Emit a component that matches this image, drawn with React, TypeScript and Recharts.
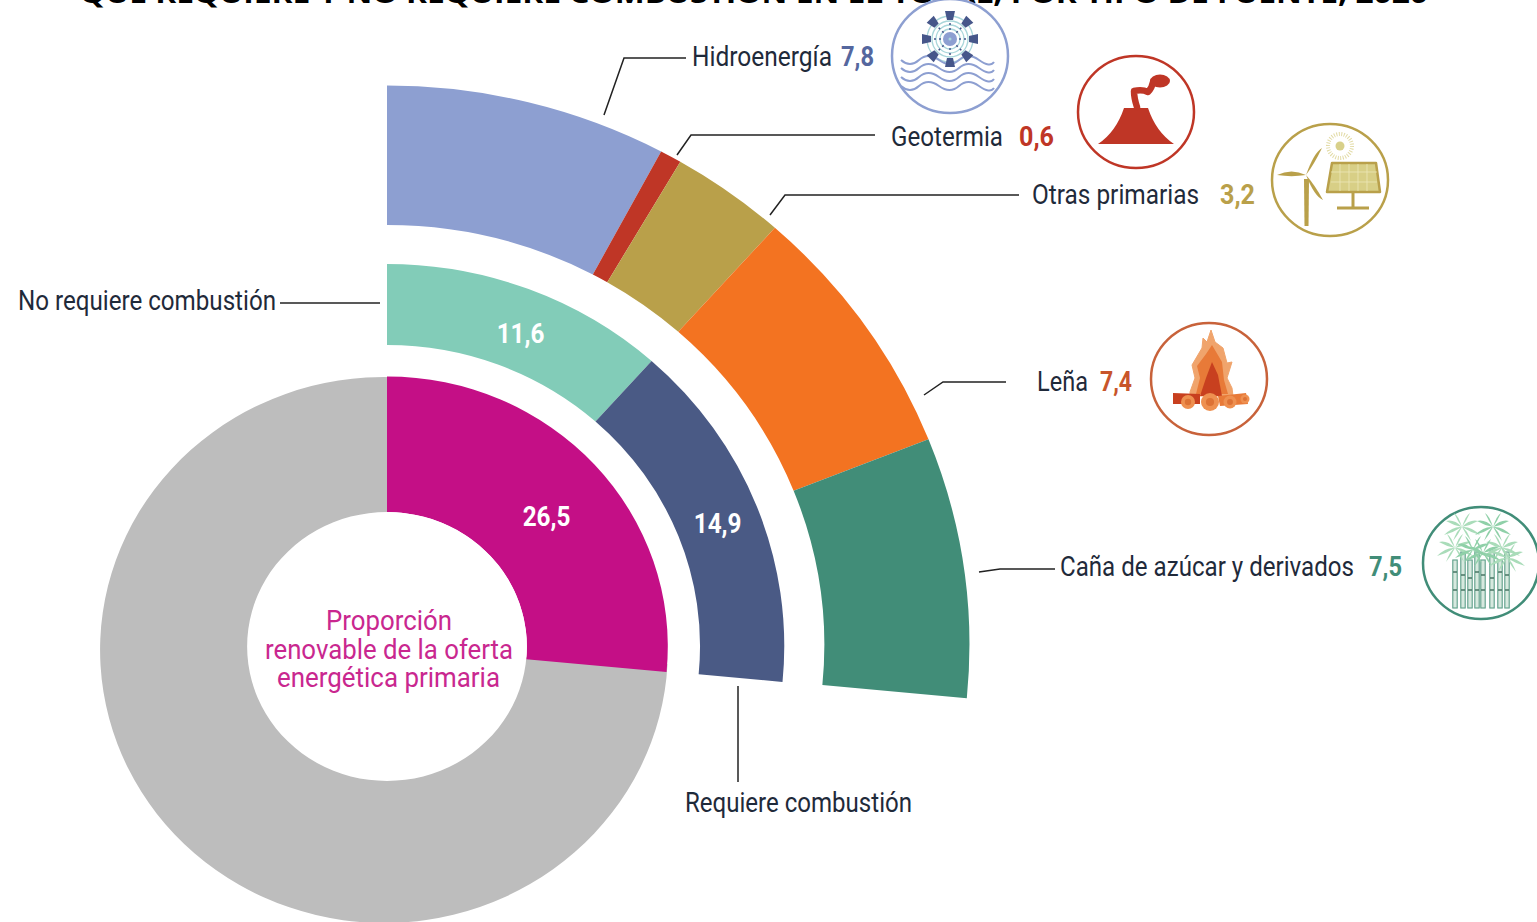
import React from "react"
import { PieChart, Pie, Cell } from "recharts"

const SCALE_X = 1.04
const CENTER_X = 387 / SCALE_X

const shareNames = ["Renovable", "No renovable"]
const shareValues = [26.5, 73.5]
const shareColors = ["#c40f86", "#bdbdbd"]

const combustionNames = ["No requiere combustión", "Requiere combustión"]
const combustionValues = [11.6, 14.9]
const combustionColors = ["#82ccb8", "#4a5a85"]

const sourceNames = ["Hidroenergía", "Geotermia", "Otras primarias", "Leña", "Caña de azúcar y derivados"]
const sourceValues = [7.8, 0.6, 3.2, 7.4, 7.5]
const sourceColors = ["#8d9fd1", "#bf3626", "#b9a04a", "#f37321", "#418d78"]
const sourceValueColors = ["#55679e", "#bf3626", "#b9a04a", "#c8552a", "#418d78"]

const toRows = (names: string[], values: number[]) =>
  names.map((name, i) => ({ name, value: values[i] }))

const fmt = (v: number) => String(v).replace(".", ",")

const FONT = "Roboto, sans-serif"
const INK = "#1f2a3a"

// x, baseline and width of the source labels, then the same for their values
const sourceLabelBoxes = [
  [692, 66, 140, 841, 33],
  [891, 146, 112, 1019, 35],
  [1032, 204, 167, 1220, 35],
  [1037, 391, 51, 1100, 32],
  [1060, 576, 294, 1369, 33],
]

const leaderLines = [
  "604,115 624,58 686,58",
  "677,155 691,135 875,135",
  "770,215 785,195 1019,195",
  "924,395 943,382 1006,382",
  "979,572 1000,569 1055,569",
  "280,303 380,303",
  "738,686 738,782",
]

const centerLines = [
  { text: "Proporción", x: 326, y: 630, w: 126 },
  { text: "renovable de la oferta", x: 265, y: 659, w: 248 },
  { text: "energética primaria", x: 277, y: 687, w: 223 },
]

// the printed value labels do not sit exactly on the ring's middle
const labelNudge: Record<string, number[]> = {
  "11.6": [7, 6],
  "14.9": [0, 2],
  "26.5": [4, 6],
}

const RAD = Math.PI / 180

const SliceValue = (props: any) => {
  const { cx, cy, midAngle, innerRadius, outerRadius, value } = props
  const nudge = labelNudge[String(value)]
  if (!nudge) return null
  const r = (innerRadius + outerRadius) / 2
  const x = cx + r * Math.cos(-midAngle * RAD) + nudge[0] / SCALE_X
  const y = cy + r * Math.sin(-midAngle * RAD) + nudge[1]
  return (
    <text
      x={x}
      y={y + 10}
      textAnchor="middle"
      fill="#fff"
      fontFamily={FONT}
      fontWeight={700}
      fontSize={27}
      textLength={46}
      lengthAdjust="spacingAndGlyphs">
      {fmt(value)}
    </text>
  )
}

// thin pointed shape, used for blades and leaves
const leaf = (x: number, y: number, dx: number, dy: number, bend = 4) => {
  const mx = x + dx / 2
  const my = y + dy / 2
  return `M${x} ${y} Q${mx} ${my - bend} ${x + dx} ${y + dy} Q${mx} ${my + bend / 3} ${x} ${y} Z`
}

const HydroIcon = () => (
  <g>
    <ellipse cx={950} cy={56} rx={58} ry={57} fill="#fff" stroke="#8d9fd1" strokeWidth={2.5} />
    {[23, 18, 14, 10].map(r => (
      <circle key={r} cx={950} cy={39} r={r} fill="none" stroke="#a9d6da" strokeWidth={1.3} />
    ))}
    <circle cx={950} cy={39} r={7} fill="#8d9fd1" />
    <circle cx={950} cy={39} r={1.5} fill="#a9d6da" />
    {[60, 68, 77, 86].map(y => (
      <path
        key={y}
        d={`M901 ${y} q9 8 18 0 t20 0 t20 0 t20 0 t15 2`}
        fill="none"
        stroke="#8d9fd1"
        strokeWidth={2}
      />
    ))}
    {[0, 45, 90, 135, 180, 225, 270, 315].map(a => (
      <g key={a} transform={`rotate(${a} 950 39)`}>
        <line x1={950} y1={30} x2={950} y2={20} stroke="#46568a" strokeWidth={1.5} strokeDasharray="2 3" />
        <path d="M947 20 L953 20 L955 11 L945 11 Z" fill="#46568a" />
      </g>
    ))}
  </g>
)

const VolcanoIcon = () => (
  <g>
    <ellipse cx={1136} cy={112} rx={58} ry={56} fill="#fff" stroke="#bf3626" strokeWidth={2.5} />
    <path d="M1098 144 Q1116 132 1124 108 L1148 108 Q1156 132 1174 144 Z" fill="#bf3626" />
    <path
      d="M1137 107 Q1134 98 1134 91 Q1142 89 1148 92 Q1152 88 1153 82 Q1158 78 1165 80"
      fill="none"
      stroke="#bf3626"
      strokeWidth={6.5}
      strokeLinecap="round"
      strokeLinejoin="round"
    />
    <ellipse cx={1160} cy={81} rx={10} ry={6.5} fill="#bf3626" />
  </g>
)

const SolarIcon = () => (
  <g fill="#b9a04a">
    <ellipse cx={1330} cy={180} rx={58} ry={56} fill="#fff" stroke="#b9a04a" strokeWidth={2.5} />
    <path d={leaf(1306, 175, -29, 0, 7)} />
    <path d={leaf(1306, 175, 16, -27, 9)} />
    <path d={leaf(1306, 175, 17, 25, -9)} />
    <path d="M1304 179 L1309 179 L1308.5 226 L1304.5 226 Z" />
    <path
      d="M1332 163 L1376 163 L1380 192 L1327 192 Z"
      fill="#d8cf86"
      stroke="#b9a04a"
      strokeWidth={2.5}
      strokeLinejoin="round"
    />
    {[1340, 1349, 1358, 1367].map(x => (
      <line key={x} x1={x} y1={164} x2={x} y2={191} stroke="#eee7b8" strokeWidth={0.8} />
    ))}
    {[172, 182].map(y => (
      <line key={y} x1={1331} y1={y} x2={1377} y2={y} stroke="#eee7b8" strokeWidth={0.8} />
    ))}
    <path d="M1353 192 L1353 208 M1337 208 L1369 208" stroke="#b9a04a" strokeWidth={3} fill="none" />
    <circle cx={1340} cy={146} r={4.5} fill="#d8d08a" />
    <circle cx={1340} cy={146} r={12} fill="none" stroke="#e2dba6" strokeWidth={4} strokeDasharray="1 1.5" />
  </g>
)

const FireIcon = () => (
  <g>
    <ellipse cx={1209} cy={379} rx={58} ry={56} fill="#fff" stroke="#c8623a" strokeWidth={2.5} />
    <path
      d="M1211 330 L1215 342 L1223 348 L1227 363 L1232 362 L1227 378 L1232 388 L1233 396 L1190 396 L1190 392 L1195 378 L1192 365 L1202 348 L1203 338 L1207 342 Z"
      fill="#f0a46c"
      stroke="#f0a46c"
      strokeLinejoin="round"
    />
    <path
      d="M1212 345 L1222 362 L1224 380 L1228 394 L1196 394 L1200 378 L1197 366 L1206 354 Z"
      fill="#e87a38"
      strokeLinejoin="round"
    />
    <path d="M1212 362 L1218 375 L1222 396 L1200 396 L1206 378 Z" fill="#c8401f" />
    <path d="M1173 393 L1200 394 L1200 404 L1173 404 Z" fill="#c8401f" />
    <path d="M1218 396 L1246 393 L1248 404 L1220 406 Z" fill="#e87a38" />
    {[[1188, 402, 7], [1210, 402, 9], [1230, 402, 6.5], [1245, 399, 4.5]].map(([x, y, r]) => (
      <g key={x}>
        <circle cx={x} cy={y} r={r} fill="#ee9050" />
        <circle cx={x} cy={y} r={r / 2.2} fill="#dd7235" />
      </g>
    ))}
  </g>
)

const caneLeaves = [[-16, -6], [16, -6], [-18, 8], [18, 8], [-8, -14], [8, -14], [-9, 14], [9, 14]]

const CaneIcon = () => (
  <g>
    <ellipse cx={1481} cy={563} rx={58} ry={56} fill="#fff" stroke="#418d78" strokeWidth={2.5} />
    {[1455, 1463, 1470, 1477, 1483, 1492, 1500, 1507].map((x, i) => (
      <g key={x}>
        <rect
          x={x - 2.2}
          y={i % 2 ? 552 : 560}
          width={4.4}
          height={i % 2 ? 56 : 48}
          fill="#d7e9df"
          stroke="#5c9f88"
          strokeWidth={1.1}
        />
        <line x1={x - 2} x2={x + 2} y1={572 + (i % 3) * 3} y2={572 + (i % 3) * 3} stroke="#4f7a6a" strokeWidth={1.6} />
        <line x1={x - 2} x2={x + 2} y1={590} y2={590} stroke="#4f7a6a" strokeWidth={1.6} />
      </g>
    ))}
    {[[1462, 527], [1493, 527], [1455, 548], [1473, 550], [1502, 548], [1483, 553], [1507, 558]].map(([x, y], i) => (
      <g key={`${x}-${y}`} fill={i % 2 ? "#8fd0a8" : "#a9dcb9"}>
        {caneLeaves.map(([dx, dy]) => (
          <path key={`${dx}-${dy}`} d={leaf(x, y, dx, dy, 5)} />
        ))}
      </g>
    ))}
  </g>
)

const App = () => {
  const sourceRows = toRows(sourceNames, sourceValues)
  const combustionRows = toRows(combustionNames, combustionValues)
  const shareRows = toRows(shareNames, shareValues)
  return (
    <div style={{ position: "absolute", left: 0, top: 0, width: 1537, height: 922, overflow: "hidden", background: "#fff" }}>
      <div style={{ position: "absolute", left: 0, top: 0, transform: `scaleX(${SCALE_X})`, transformOrigin: "0 0" }}>
        <PieChart width={1537 / SCALE_X} height={922} margin={{ top: 0, right: 0, bottom: 0, left: 0 }}>
          <Pie
            data={sourceRows}
            dataKey="value"
            nameKey="name"
            cx={CENTER_X}
            cy={645.5}
            innerRadius={420.5}
            outerRadius={560}
            startAngle={90}
            endAngle={-5.4}
            stroke="none"
            isAnimationActive={false}>
            {sourceRows.map((row, i) => (
              <Cell key={row.name} fill={sourceColors[i]} />
            ))}
          </Pie>
          <Pie
            data={combustionRows}
            dataKey="value"
            nameKey="name"
            cx={CENTER_X}
            cy={646}
            innerRadius={301}
            outerRadius={382}
            startAngle={90}
            endAngle={-5.4}
            stroke="none"
            labelLine={false}
            label={SliceValue}
            isAnimationActive={false}>
            {combustionRows.map((row, i) => (
              <Cell key={row.name} fill={combustionColors[i]} />
            ))}
          </Pie>
          {/* the grey part is printed a little off centre from the magenta one */}
          <Pie
            data={shareRows.slice(1)}
            dataKey="value"
            cx={384 / SCALE_X}
            cy={650}
            innerRadius={0}
            outerRadius={273}
            startAngle={-3}
            endAngle={-272}
            stroke="none"
            isAnimationActive={false}>
            <Cell fill={shareColors[1]} />
          </Pie>
          <Pie
            data={shareRows}
            dataKey="value"
            nameKey="name"
            cx={CENTER_X}
            cy={646.5}
            innerRadius={134.5}
            outerRadius={270}
            startAngle={90}
            endAngle={-270}
            stroke="none"
            labelLine={false}
            label={SliceValue}
            isAnimationActive={false}>
            <Cell fill={shareColors[0]} />
            <Cell fill="none" />
          </Pie>
          <Pie
            data={shareRows.slice(0, 1)}
            dataKey="value"
            cx={CENTER_X}
            cy={646.5}
            innerRadius={0}
            outerRadius={134.5}
            startAngle={90}
            endAngle={-270}
            stroke="none"
            isAnimationActive={false}>
            <Cell fill="#fff" />
          </Pie>
        </PieChart>
      </div>
      <svg width={1537} height={922} style={{ position: "absolute", left: 0, top: 0 }} fontFamily={FONT}>
        <text
          x={80}
          y={3}
          fontFamily="'Open Sans', sans-serif"
          fontWeight={700}
          fontSize={27}
          fill="#000"
          textLength={1348}
          lengthAdjust="spacingAndGlyphs">
          QUE REQUIERE Y NO REQUIERE COMBUSTIÓN EN EL TOTAL, POR TIPO DE FUENTE, 2020
        </text>
        {leaderLines.map(points => (
          <polyline key={points} points={points} fill="none" stroke="#222" strokeWidth={1.5} />
        ))}
        {sourceNames.map((name, i) => {
          const [x, y, w, vx, vw] = sourceLabelBoxes[i]
          return (
            <g key={name} fontSize={27}>
              <text x={x} y={y} fill={INK} textLength={w} lengthAdjust="spacingAndGlyphs">
                {name}
              </text>
              <text
                x={vx}
                y={y}
                fill={sourceValueColors[i]}
                fontWeight={700}
                textLength={vw}
                lengthAdjust="spacingAndGlyphs">
                {fmt(sourceValues[i])}
              </text>
            </g>
          )
        })}
        <text x={18} y={310} fontSize={27} fill={INK} textLength={258} lengthAdjust="spacingAndGlyphs">
          {combustionNames[0]}
        </text>
        <text x={685} y={812} fontSize={27} fill={INK} textLength={227} lengthAdjust="spacingAndGlyphs">
          {combustionNames[1]}
        </text>
        {centerLines.map(line => (
          <text
            key={line.text}
            x={line.x}
            y={line.y}
            fontSize={27}
            fill="#c9278f"
            textLength={line.w}
            lengthAdjust="spacingAndGlyphs">
            {line.text}
          </text>
        ))}
        <HydroIcon />
        <VolcanoIcon />
        <SolarIcon />
        <FireIcon />
        <CaneIcon />
      </svg>
    </div>
  )
}

export default App
